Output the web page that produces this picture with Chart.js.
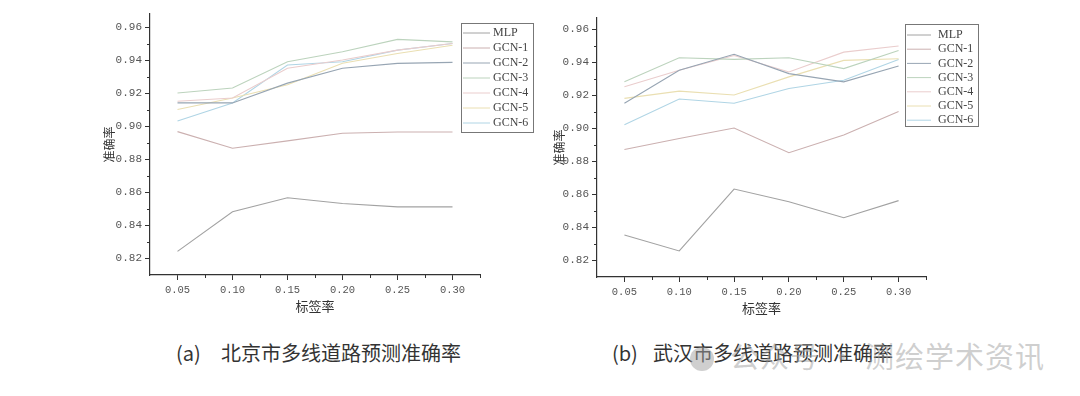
<!DOCTYPE html>
<html lang="zh-CN">
<head>
<meta charset="UTF-8">
<title>多线道路预测准确率</title>
<script src="https://cdn.jsdelivr.net/npm/chart.js@4.4.0/dist/chart.umd.min.js"></script>
<style>
  html, body { margin: 0; padding: 0; background: #fff; }
  body { width: 1080px; height: 396px; position: relative; overflow: hidden; font-family: "Noto Sans CJK SC", sans-serif; }
  canvas { position: absolute; top: 0; }
  #chartA { left: 100px; }
  #chartB { left: 550px; }
  .cap { position: absolute; top: 338px; font-size: 20px; color: #333; white-space: nowrap; }
  .cap span { display: inline-block; }
  .mark { position: absolute; top: 334px; left: 690px; font-size: 29px; letter-spacing: 1px; color: rgba(160,160,160,0.5); white-space: nowrap; }
  .mark i { display: inline-block; width: 24px; height: 24px; border-radius: 50%; background: rgba(160,160,160,0.5); vertical-align: -3px; margin-right: 16px; }
</style>
</head>
<body>
<canvas id="chartA" width="450" height="316"></canvas>
<canvas id="chartB" width="440" height="318"></canvas>
<div class="cap" style="left:176px"><span style="width:45px">(a)</span>北京市多线道路预测准确率</div>
<div class="cap" style="left:612px"><span style="width:41px">(b)</span>武汉市多线道路预测准确率</div>
<div class="mark"><i></i>公众号 · 测绘学术资讯</div>
<script>
// x categories and y tick values
const labelRates = ['0.05', '0.10', '0.15', '0.20', '0.25', '0.30'];
const yTicks = [0.82, 0.84, 0.86, 0.88, 0.90, 0.92, 0.94, 0.96];
const seriesNames = ['MLP', 'GCN-1', 'GCN-2', 'GCN-3', 'GCN-4', 'GCN-5', 'GCN-6'];
const seriesColors = ['#a2a2a2', '#cbb0b0', '#97a5b3', '#bcd3bd', '#eacdcd', '#eadfb2', '#b0d5e5'];

// (a) Beijing
const bjMLP  = [0.824, 0.848, 0.8565, 0.853, 0.851, 0.851];
const bjGCN1 = [0.8966, 0.8865, 0.891, 0.8956, 0.8964, 0.8964];
const bjGCN2 = [0.914, 0.914, 0.926, 0.935, 0.938, 0.9386];
const bjGCN3 = [0.920, 0.923, 0.939, 0.945, 0.9525, 0.951];
const bjGCN4 = [0.915, 0.917, 0.935, 0.940, 0.946, 0.950];
const bjGCN5 = [0.910, 0.917, 0.925, 0.938, 0.944, 0.949];
const bjGCN6 = [0.903, 0.914, 0.937, 0.939, 0.946, 0.950];

// (b) Wuhan
const whMLP  = [0.8352, 0.8255, 0.863, 0.8553, 0.8456, 0.856];
const whGCN1 = [0.887, 0.8937, 0.900, 0.885, 0.8958, 0.910];
const whGCN2 = [0.915, 0.935, 0.9447, 0.933, 0.928, 0.9376];
const whGCN3 = [0.928, 0.9426, 0.9416, 0.9426, 0.936, 0.947];
const whGCN4 = [0.925, 0.935, 0.944, 0.934, 0.946, 0.9497];
const whGCN5 = [0.918, 0.9224, 0.920, 0.931, 0.941, 0.942];
const whGCN6 = [0.902, 0.9176, 0.915, 0.924, 0.929, 0.9416];

const monoFont = 'Liberation Mono';

// minor ticks + boxed legend inside the plot
const decor = {
    id: 'decor',
    afterDraw(chart, args, opts) {
        const ctx = chart.ctx, xs = chart.scales.x, ys = chart.scales.y;
        ctx.save();
        ctx.strokeStyle = '#333';
        ctx.lineWidth = 1;
        ctx.beginPath();
        for (let i = 0; i < labelRates.length; i++) {
            const px = Math.round(xs.getPixelForValue(i + 0.5)) + 0.5;
            ctx.moveTo(px, xs.top); ctx.lineTo(px, xs.top + 3);
        }
        for (let k = 0; k < yTicks.length - 1; k++) {
            const py = Math.round(ys.getPixelForValue(yTicks[k] + 0.01)) + 0.5;
            ctx.moveTo(ys.right, py); ctx.lineTo(ys.right - 3, py);
        }
        ctx.stroke();

        const lg = opts.legend;
        ctx.strokeStyle = '#777';
        ctx.strokeRect(lg.x + 0.5, lg.y + 0.5, lg.w, lg.h);
        ctx.font = '12px "Liberation Serif"';
        ctx.textBaseline = 'middle';
        ctx.fillStyle = '#444';
        chart.data.datasets.forEach((ds, i) => {
            const ty = lg.row0 + i * lg.step;
            ctx.strokeStyle = ds.borderColor;
            ctx.lineWidth = 1;
            ctx.beginPath();
            ctx.moveTo(lg.s1, ty); ctx.lineTo(lg.s2, ty);
            ctx.stroke();
            ctx.fillText(ds.label, lg.tx, ty);
        });
        ctx.restore();
    }
};

function makeChart(id, values, cfg) {
    return new Chart(document.getElementById(id), {
        type: 'line',
        data: {
            labels: labelRates,
            datasets: values.map((v, i) => ({
                label: seriesNames[i],
                data: v,
                borderColor: seriesColors[i],
                borderWidth: 1.1,
                pointRadius: 0,
                tension: 0,
                fill: false
            }))
        },
        options: {
            responsive: false,
            animation: false,
            layout: { padding: { top: cfg.padTop, right: cfg.padRight, left: 0, bottom: 0 } },
            plugins: {
                legend: { display: false },
                tooltip: { enabled: false },
                decor: { legend: cfg.legend }
            },
            scales: {
                x: {
                    type: 'category',
                    offset: true,
                    grid: { drawOnChartArea: false, offset: false, tickLength: 5, color: '#333' },
                    border: { color: '#333', width: 1.2 },
                    ticks: { font: { family: monoFont, size: 10.5 }, color: '#555', padding: 4, maxRotation: 0 },
                    title: { display: true, text: '标签率', font: { family: 'Noto Sans CJK SC', size: 13 }, color: '#333', padding: { top: 0, bottom: 2 } },
                    afterFit: s => { s.height = cfg.xHeight; }
                },
                y: {
                    type: 'linear',
                    min: cfg.yMin,
                    max: cfg.yMax,
                    afterBuildTicks: s => { s.ticks = yTicks.map(v => ({ value: v })); },
                    grid: { drawOnChartArea: false, tickLength: 5, color: '#333' },
                    border: { color: '#333', width: 1.2 },
                    ticks: { font: { family: monoFont, size: 11 }, color: '#555', padding: 3, callback: v => v.toFixed(2) },
                    title: { display: true, text: '准确率', font: { family: 'Noto Sans CJK SC', size: 12 }, color: '#333', padding: { top: 2, bottom: 0 } },
                    afterFit: s => { s.width = cfg.yWidth; }
                }
            }
        },
        plugins: [decor]
    });
}

makeChart('chartA', [bjMLP, bjGCN1, bjGCN2, bjGCN3, bjGCN4, bjGCN5, bjGCN6], {
    yMin: 0.8097, yMax: 0.9679, yWidth: 50, xHeight: 41, padTop: 14, padRight: 70,
    legend: { x: 361, y: 23, w: 72, h: 109, row0: 33, step: 15, s1: 363, s2: 390, tx: 393 }
});

makeChart('chartB', [whMLP, whGCN1, whGCN2, whGCN3, whGCN4, whGCN5, whGCN6], {
    yMin: 0.8097, yMax: 0.9667, yWidth: 47, xHeight: 41, padTop: 18, padRight: 64,
    legend: { x: 355, y: 24, w: 73, h: 102, row0: 35, step: 14.2, s1: 357, s2: 381, tx: 388 }
});
</script>
</body>
</html>
